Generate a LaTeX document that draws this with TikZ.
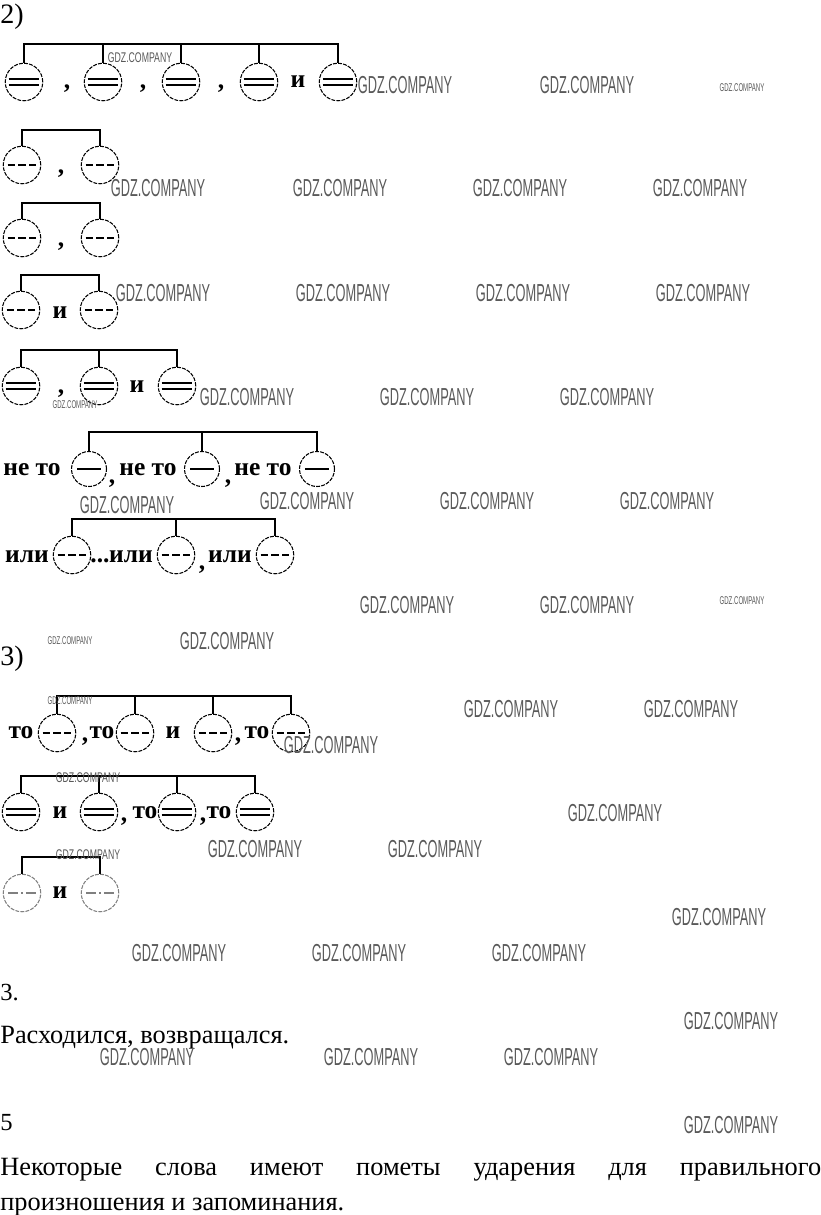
\documentclass[tikz,border=0pt]{standalone}
\usepackage{fontspec}
\setmainfont{Liberation Serif}
\newfontfamily\wmfont{Liberation Sans}
\usetikzlibrary{positioning}

\begin{document}
\begin{tikzpicture}[x=0.02cm, y=-0.02cm,
    member/.style={circle, draw, dash pattern=on 2.2pt off 0.7pt, line width=0.6pt,
      minimum size=0.75cm, inner sep=0pt},
    skaz/.style={member, path picture={
        \draw[solid, line width=0.9pt]
        ([shift={(-0.31cm,0.06cm)}]path picture bounding box.center) -- ++(0.62cm,0)
        ([shift={(-0.31cm,-0.06cm)}]path picture bounding box.center) -- ++(0.62cm,0);}},
    podl/.style={member, minimum size=0.7cm, path picture={
        \draw[solid, line width=1pt]
        ([xshift=-0.24cm]path picture bounding box.center) -- ++(0.48cm,0);}},
    dop/.style={member, path picture={
        \draw[line width=0.9pt, dash pattern=on 0.147cm off 0.07cm]
        ([xshift=-0.29cm]path picture bounding box.center) -- ++(0.58cm,0);}},
    obst/.style={member, draw=black!50, path picture={
        \draw[solid, line width=0.9pt]
        ([xshift=-0.28cm]path picture bounding box.center) -- ++(0.2cm,0)
        ([xshift=-0.02cm]path picture bounding box.center) -- ++(0.04cm,0)
        ([xshift=0.08cm]path picture bounding box.center) -- ++(0.2cm,0);}},
    bar/.style={line width=0.9pt},
    word/.style={font=\fontsize{14.5}{16}\selectfont\bfseries, inner sep=0pt, anchor=base},
    txt/.style={font=\fontsize{15}{18}\selectfont, inner sep=0pt, anchor=base west},
    wmbig/.style={font=\wmfont\fontsize{14}{14}\selectfont, inner sep=0pt, text=black!65},
    wmmid/.style={font=\wmfont\fontsize{8}{8}\selectfont, inner sep=0pt, text=black!65},
    wmsmall/.style={font=\wmfont\fontsize{6.4}{6.4}\selectfont, inner sep=0pt, text=black!65}]

  \useasboundingbox (0,0) rectangle (821,1215);

  % headings and text
  \node[txt, font=\fontsize{16}{18}\selectfont] (h2) at (0,23) {2)};
  \node[txt, font=\fontsize{16}{18}\selectfont] (h3) at (0,665) {3)};
  \node[txt, font=\fontsize{14}{16}\selectfont] (n3) at (0,1000) {3.};
  \node[txt] (ans3) at (0,1043) {Расходился, возвращался.};
  \node[txt, font=\fontsize{14}{16}\selectfont] (n5) at (0,1130) {5};
  \node[txt] (ans5a) at (0,1175)
  {\makebox[16.42cm][s]{Некоторые слова имеют пометы ударения для правильного}};
  \node[txt] (ans5b) at (0,1210) {произношения и запоминания.};

  % row a
  \node[skaz] (a1) at (24,82) {};
  \node[skaz] (a2) at (103,82) {};
  \node[skaz] (a3) at (181,82) {};
  \node[skaz] (a4) at (259,82) {};
  \node[skaz] (a5) at (338,82) {};
  \node[word] (ka1) at (67,88) {,};
  \node[word] (ka2) at (143,88) {,};
  \node[word] (ka3) at (221,88) {,};
  \node[word] (ia) at (298,87) {и};
  \draw[bar] (a1.north) -- (a1.north |- 0,44) -| (a5.north);
  \foreach \n in {a2,a3,a4}
    \draw[bar] (\n.north) -- (\n.north |- 0,44);

  % row b
  \node[dop] (b1) at (22,165) {};
  \node[dop] (b2) at (100,165) {};
  \node[word] (kb) at (61,173) {,};
  \draw[bar] (b1.north) -- (b1.north |- 0,130) -| (b2.north);

  % row c
  \node[dop] (c1) at (22,238) {};
  \node[dop] (c2) at (100,238) {};
  \node[word] (kc) at (61,246) {,};
  \draw[bar] (c1.north) -- (c1.north |- 0,203) -| (c2.north);

  % row d
  \node[dop] (d1) at (21,310) {};
  \node[dop] (d2) at (99,310) {};
  \node[word] (id) at (60,318) {и};
  \draw[bar] (d1.north) -- (d1.north |- 0,275) -| (d2.north);

  % row e
  \node[skaz] (e1) at (21,386) {};
  \node[skaz] (e2) at (99,386) {};
  \node[skaz] (e3) at (177,386) {};
  \node[word] (ke) at (61,393) {,};
  \node[word] (ie) at (137,392) {и};
  \draw[bar] (e1.north) -- (e1.north |- 0,350) -| (e3.north);
  \draw[bar] (e2.north) -- (e2.north |- 0,350);

  % row f
  \node[podl] (f1) at (89,469) {};
  \node[podl] (f2) at (202,469) {};
  \node[podl] (f3) at (317,469) {};
  \node[word] (nf1) at (32,475) {не то};
  \node[word] (nf2) at (148,475) {не то};
  \node[word] (nf3) at (263,475) {не то};
  \node[word] (kf1) at (112,483) {,};
  \node[word] (kf2) at (228,483) {,};
  \draw[bar] (f1.north) -- (f1.north |- 0,432) -| (f3.north);
  \draw[bar] (f2.north) -- (f2.north |- 0,432);

  % row g
  \node[dop] (g1) at (72,555) {};
  \node[dop] (g2) at (176,555) {};
  \node[dop] (g3) at (275,555) {};
  \node[word] (lg1) at (27,562) {или};
  \node[word] (dots) at (100,562) {...};
  \node[word] (lg2) at (131,562) {или};
  \node[word] (kg) at (202,569) {,};
  \node[word] (lg3) at (230,562) {или};
  \draw[bar] (g1.north) -- (g1.north |- 0,519) -| (g3.north);
  \draw[bar] (g2.north) -- (g2.north |- 0,519);

  % row h
  \node[dop] (h1) at (57,733) {};
  \node[dop] (h2) at (135,733) {};
  \node[dop] (h3) at (213,733) {};
  \node[dop] (h4) at (291,733) {};
  \node[word] (th1) at (21,738) {то};
  \node[word] (kh1) at (85,741) {,};
  \node[word] (th2) at (102,738) {то};
  \node[word] (ih) at (173,738) {и};
  \node[word] (kh2) at (238,741) {,};
  \node[word] (th3) at (257,738) {то};
  \draw[bar] (h1.north) -- (h1.north |- 0,696) -| (h4.north);
  \foreach \n in {h2,h3}
    \draw[bar] (\n.north) -- (\n.north |- 0,696);

  % row i
  \node[skaz] (i1) at (21,812) {};
  \node[skaz] (i2) at (99,812) {};
  \node[skaz] (i3) at (177,812) {};
  \node[skaz] (i4) at (255,812) {};
  \node[word] (ii) at (60,818) {и};
  \node[word] (ki1) at (124,821) {,};
  \node[word] (ti1) at (145,818) {то};
  \node[word] (ki2) at (203,821) {,};
  \node[word] (ti2) at (219,818) {то};
  \draw[bar] (i1.north) -- (i1.north |- 0,776) -| (i4.north);
  \foreach \n in {i2,i3}
    \draw[bar] (\n.north) -- (\n.north |- 0,776);

  % row j
  \node[obst] (j1) at (22,893) {};
  \node[obst] (j2) at (100,893) {};
  \node[word] (ij) at (60,898) {и};
  \draw[bar] (j1.north) -- (j1.north |- 0,857) -| (j2.north);

  % watermarks
  \foreach \x/\y [count=\i] in {405/85, 587/85, 158/188, 340/188, 520/188, 700/188,
      163/293, 343/293, 523/293, 703/293, 247/397, 427/397, 607/397,
      127/505, 307/501, 487/501, 667/501, 407/605, 587/605, 227/641,
      511/709, 691/709, 331/745, 615/813, 255/849, 435/849, 719/917,
      179/953, 359/953, 539/953, 731/1021, 147/1057, 371/1057, 551/1057, 731/1125}
    \node[wmbig] (wb\i) at (\x,\y) {\scalebox{0.52}[1]{GDZ.COMPANY}};
  \foreach \x/\y [count=\i] in {140/58, 88/778, 88/855}
    \node[wmmid] (wm\i) at (\x,\y) {\scalebox{0.62}[1]{GDZ.COMPANY}};
  \foreach \x/\y [count=\i] in {742/88, 75/405, 742/601, 70/641, 70/701}
    \node[wmsmall] (ws\i) at (\x,\y) {\scalebox{0.54}[1]{GDZ.COMPANY}};
\end{tikzpicture}
\end{document}
